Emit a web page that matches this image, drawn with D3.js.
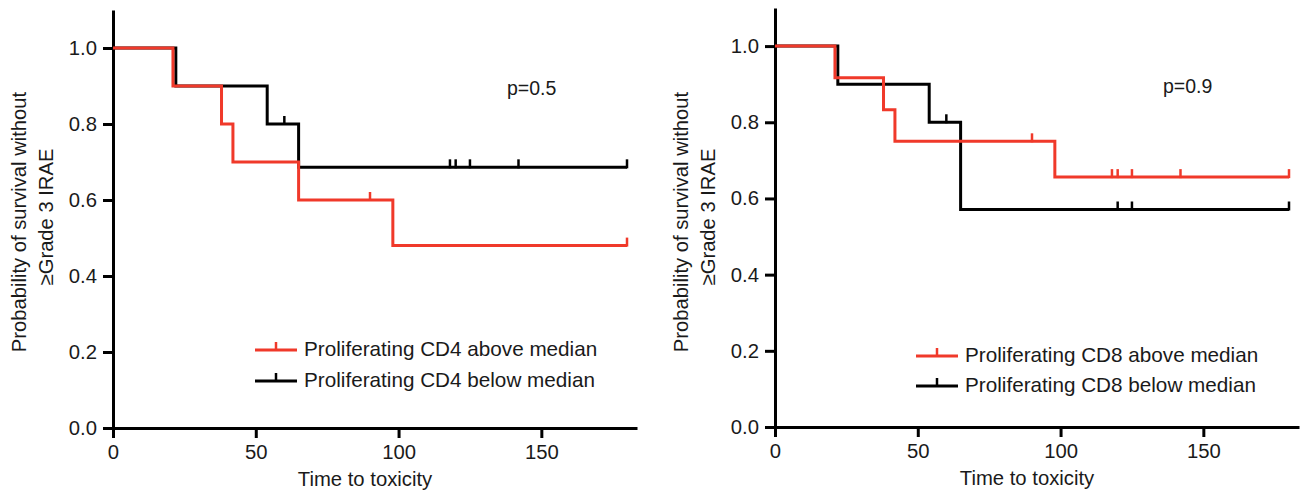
<!DOCTYPE html>
<html>
<head>
<meta charset="utf-8">
<script src="https://cdn.jsdelivr.net/npm/d3@7"></script>
<style>
    body { margin: 0; background: #ffffff; }
    text { font-family: "Liberation Sans", Arial, sans-serif; fill: #1a1a1a; }
</style>
</head>
<body>
<div id="chart"></div>
<script>
// Kaplan-Meier curves, time to >=grade 3 irAE

var xTicks = [ 0, 50, 100, 150 ];
var yTicks = [ 0, 0.2, 0.4, 0.6, 0.8, 1.0 ];

// CD4 panel
var cd4AboveTimes  = [ 0, 21, 38, 42, 65, 98, 180 ];
var cd4AboveSurv   = [ 1, 0.9, 0.8, 0.7, 0.6, 0.48, 0.48 ];
var cd4AboveCensor = [ 90, 180 ];
var cd4BelowTimes  = [ 0, 22, 54, 65, 180 ];
var cd4BelowSurv   = [ 1, 0.9, 0.8, 0.686, 0.686 ];
var cd4BelowCensor = [ 60, 118, 120, 125, 142, 180 ];

// CD8 panel
var cd8AboveTimes  = [ 0, 21, 38, 42, 98, 180 ];
var cd8AboveSurv   = [ 1, 0.917, 0.833, 0.75, 0.656, 0.656 ];
var cd8AboveCensor = [ 90, 118, 120, 125, 142, 180 ];
var cd8BelowTimes  = [ 0, 22, 54, 65, 180 ];
var cd8BelowSurv   = [ 1, 0.9, 0.8, 0.571, 0.571 ];
var cd8BelowCensor = [ 60, 120, 125, 180 ];

var pLabels = [ "p=0.5", "p=0.9" ];
var legendLabels = [
    [ "Proliferating CD4 above median", "Proliferating CD4 below median" ],
    [ "Proliferating CD8 above median", "Proliferating CD8 below median" ]
];

var RED = "#f0392a", BLACK = "#000000";

var svg = d3.select( "#chart" ).append( "svg" )
    .attr( "width", 1306 )
    .attr( "height", 495 );

function survAt( times, surv, t )
{
    var s = surv[0];
    for( var i = 0; i < times.length; i++ ) if( times[i] <= t ) s = surv[i];
    return s;
}

function drawPanel( p )
{
    var x = d3.scaleLinear().domain( [ 0, 183.5 ] ).range( [ p.left, p.right ] );
    var y = d3.scaleLinear().domain( [ 0, 1.1 ] ).range( [ p.bottom, p.top ] );

    var g = svg.append( "g" );

    // axes
    var ya = g.append( "g" )
        .attr( "transform", "translate(" + p.left + ",0)" )
        .call( d3.axisLeft( y ).tickValues( yTicks ).tickFormat( d3.format( ".1f" ) ).tickSize( 10 ).tickSizeOuter( 0 ).tickPadding( 6 ) );
    var xa = g.append( "g" )
        .attr( "transform", "translate(0," + p.bottom + ")" )
        .call( d3.axisBottom( x ).tickValues( xTicks ).tickSize( 10 ).tickSizeOuter( 0 ).tickPadding( 7 ) );
    [ ya, xa ].forEach( function( a ) {
        a.select( ".domain" ).attr( "stroke", BLACK ).attr( "stroke-width", 3 );
        a.selectAll( ".tick line" ).attr( "stroke", BLACK ).attr( "stroke-width", 3 );
        a.selectAll( ".tick text" ).style( "font-size", "20.3px" ).style( "fill", "#1a1a1a" )
            .style( "font-family", "'Liberation Sans', Arial, sans-serif" );
    });

    // axis titles
    g.append( "text" )
        .attr( "x", ( p.left + p.right ) / 2 - 10 )
        .attr( "y", p.bottom + 58 )
        .style( "text-anchor", "middle" )
        .style( "font-size", "20.3px" )
        .text( "Time to toxicity" );

    g.append( "text" )
        .attr( "transform", "translate(" + ( p.left - 87 ) + ",222) rotate(-90)" )
        .style( "text-anchor", "middle" )
        .style( "font-size", "20.2px" )
        .text( "Probability of survival without" );
    g.append( "text" )
        .attr( "transform", "translate(" + ( p.left - 60 ) + ",217) rotate(-90)" )
        .style( "text-anchor", "middle" )
        .style( "font-size", "20.2px" )
        .text( "\u2265Grade 3 IRAE" );

    var line = d3.line()
        .x( function( d ) { return x( d[0] ); } )
        .y( function( d ) { return y( d[1] ); } )
        .curve( d3.curveStepAfter );

    p.series.forEach( function( s ) {
        var pts = s.times.map( function( t, i ) { return [ t, s.surv[i] ]; } );
        g.append( "path" )
            .attr( "d", line( pts ) )
            .attr( "fill", "none" )
            .attr( "stroke", s.color )
            .attr( "stroke-width", 3 );

        // censor marks
        g.selectAll( null )
            .data( s.censor )
            .enter().append( "line" )
            .attr( "x1", function( t ) { return x( t ); } )
            .attr( "x2", function( t ) { return x( t ); } )
            .attr( "y1", function( t ) { return y( survAt( s.times, s.surv, t ) ) + 1; } )
            .attr( "y2", function( t ) { return y( survAt( s.times, s.surv, t ) ) - 8; } )
            .attr( "stroke", s.color )
            .attr( "stroke-width", 2.5 );
    });

    // p value
    g.append( "text" )
        .attr( "x", p.pX )
        .attr( "y", p.pY )
        .style( "font-size", "19.5px" )
        .text( p.pText );

    // legend
    p.series.slice().reverse().forEach( function( s, i ) {
        var ly = p.legY + i * p.legGap;
        g.append( "line" )
            .attr( "x1", p.legX ).attr( "x2", p.legX + 42 )
            .attr( "y1", ly ).attr( "y2", ly )
            .attr( "stroke", s.color ).attr( "stroke-width", 3 );
        g.append( "line" )
            .attr( "x1", p.legX + 21 ).attr( "x2", p.legX + 21 )
            .attr( "y1", ly ).attr( "y2", ly - 8 )
            .attr( "stroke", s.color ).attr( "stroke-width", 2.5 );
        g.append( "text" )
            .attr( "x", p.legX + 49 )
            .attr( "y", ly + 6 )
            .style( "font-size", "20.7px" )
            .text( s.label );
    });
}

drawPanel({
    left: 113, right: 637, top: 10, bottom: 428,
    pText: pLabels[0], pX: 507, pY: 95,
    legX: 255, legY: 350, legGap: 31,
    series: [
        { times: cd4BelowTimes, surv: cd4BelowSurv, censor: cd4BelowCensor, color: BLACK, label: legendLabels[0][1] },
        { times: cd4AboveTimes, surv: cd4AboveSurv, censor: cd4AboveCensor, color: RED, label: legendLabels[0][0] }
    ]
});

drawPanel({
    left: 775, right: 1299, top: 8, bottom: 427,
    pText: pLabels[1], pX: 1163, pY: 93,
    legX: 916, legY: 356, legGap: 30,
    series: [
        { times: cd8BelowTimes, surv: cd8BelowSurv, censor: cd8BelowCensor, color: BLACK, label: legendLabels[1][1] },
        { times: cd8AboveTimes, surv: cd8AboveSurv, censor: cd8AboveCensor, color: RED, label: legendLabels[1][0] }
    ]
});
</script>
</body>
</html>
